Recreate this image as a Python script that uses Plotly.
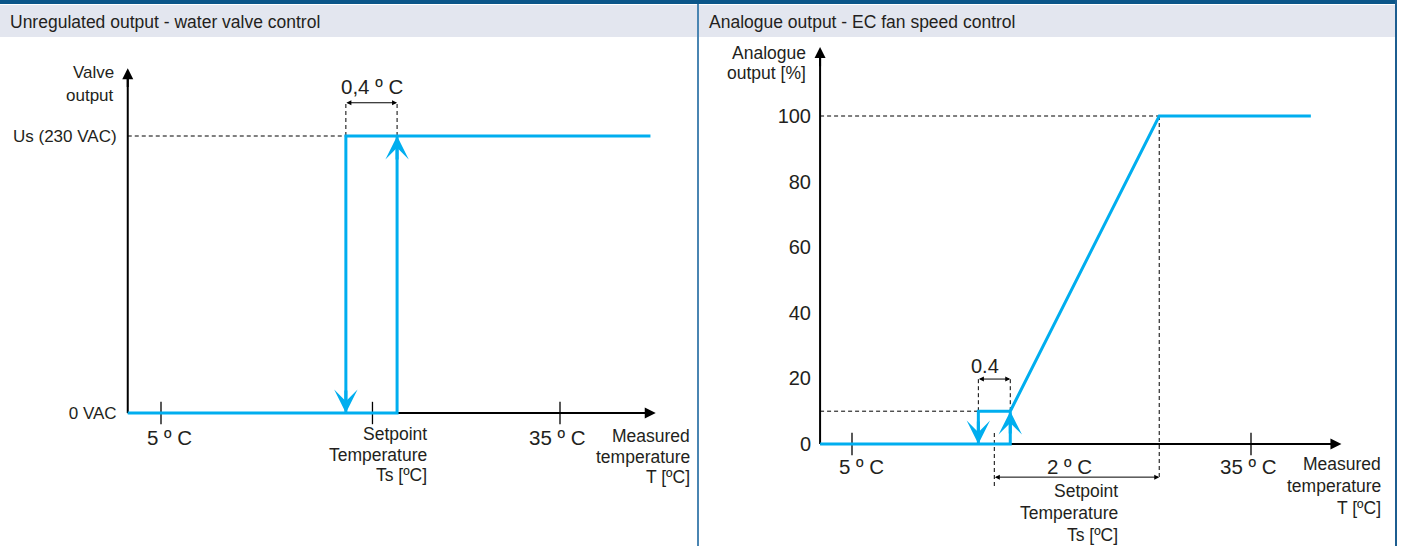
import plotly.graph_objects as go

W, H = 1402, 546

# ---------------- data (schematic values) ----------------
# Left panel: unregulated on/off output - water valve control
valve_tick_T = [5, 35]              # labelled temperature ticks (ºC)
valve_tick_labels = ["5 º C", "35 º C"]
valve_setpoint_T = 20.9             # setpoint Ts
valve_off_T = 18.9                  # output switches off (falling temperature)
valve_on_T = 22.75                  # output switches on (rising temperature)
valve_x_start = 2.5
valve_x_end = 41.8
valve_axis_end = 42.2
valve_levels = [0, 1]
valve_level_labels = ["0 VAC", "Us (230 VAC)"]
valve_axis_top = 1.245
valve_dim_level = 1.12
valve_hyst_label = "0,4 º C"

# Right panel: analogue output - EC fan speed control
fan_tick_T = [5, 35]
fan_tick_labels = ["5 º C", "35 º C"]
fan_setpoint_T = 15.7
fan_off_T = 14.5
fan_on_T = 16.9
fan_full_T = 28.1
fan_x_start = 2.6
fan_x_end = 39.5
fan_axis_end = 41.8
fan_min_pct = 10
fan_max_pct = 100
fan_yticks = [0, 20, 40, 60, 80, 100]
fan_axis_top = 121
fan_hyst_dim = 19.8
fan_band_dim = -10.1
fan_band_label = "2 º C"
fan_hyst_label = "0.4"

# ---------------- styles ----------------
BLUE = "#00AEEF"
INK = "#231f20"
FONT = "Liberation Sans"
PX_PER_C = 13.3


def lx(px):
    return 5 + (px - 161) / PX_PER_C


def rx(px):
    return 5 + (px - 852) / PX_PER_C


def ly(py):
    return (413 - py) / 277


def ry(py):
    return (444 - py) / 3.28


def ppx(px):
    return px / W


def ppy(py):
    return 1 - py / H


fig = go.Figure()


def seg_trace(xs, ys, axis, color, width, dash=None):
    xa, ya = ("x", "y") if axis == "L" else ("x2", "y2")
    fig.add_trace(go.Scatter(
        x=xs, y=ys, xaxis=xa, yaxis=ya, mode="lines",
        line=dict(color=color, width=width, dash=dash),
        hoverinfo="skip", showlegend=False))


DASH = "4px,3px"

# ---- left panel ----
seg_trace([valve_x_start, valve_off_T, None, valve_off_T, valve_off_T, None, valve_on_T, valve_on_T],
          [1, 1, None, 1, valve_dim_level, None, 1, valve_dim_level], "L", "black", 1, DASH)
# axes lines
seg_trace([valve_x_start, valve_axis_end - 0.4], [0, 0], "L", "black", 2)
seg_trace([valve_x_start, valve_x_start], [0, valve_axis_top - 0.02], "L", "black", 2)
# tick marks
fig.add_trace(go.Scatter(
    x=valve_tick_T + [valve_setpoint_T], y=[0, 0, 0], xaxis="x", yaxis="y", mode="markers",
    marker=dict(symbol="line-ns", size=16, line=dict(color="black", width=1.3)),
    hoverinfo="skip", showlegend=False))
# blue hysteresis path
seg_trace([valve_x_start, valve_on_T, valve_on_T, None, valve_off_T, valve_off_T, valve_x_end],
          [0, 0, 1, None, 0, 1, 1], "L", BLUE, 3)

# ---- right panel ----
seg_trace([fan_x_start, fan_off_T, None, fan_off_T, fan_off_T, None, fan_on_T, fan_on_T, None,
           fan_x_start, fan_full_T, None, fan_full_T, fan_full_T, None,
           fan_setpoint_T, fan_setpoint_T],
          [fan_min_pct, fan_min_pct, None, fan_min_pct, fan_hyst_dim, None, fan_min_pct, fan_hyst_dim, None,
           fan_max_pct, fan_max_pct, None, fan_max_pct, ry(478), None,
           ry(433), ry(486)], "R", "black", 1, DASH)
seg_trace([fan_x_start, fan_axis_end - 0.4], [0, 0], "R", "black", 2)
seg_trace([fan_x_start, fan_x_start], [0, fan_axis_top - 1.5], "R", "black", 2)
fig.add_trace(go.Scatter(
    x=fan_tick_T, y=[0, 0], xaxis="x2", yaxis="y2", mode="markers",
    marker=dict(symbol="line-ns", size=16, line=dict(color="black", width=1.3)),
    hoverinfo="skip", showlegend=False))
seg_trace([fan_x_start, fan_on_T, fan_on_T, fan_full_T, fan_x_end, None, fan_off_T, fan_off_T, fan_on_T],
          [0, 0, fan_min_pct, fan_max_pct, fan_max_pct, None, 0, fan_min_pct, fan_min_pct], "R", BLUE, 3)

annotations = []


def arrow(side, x, y, ax, ay, color, width, head, size, both=False):
    xr, yr = ("x", "y") if side == "L" else ("x2", "y2")
    a = dict(x=x, y=y, ax=ax, ay=ay, xref=xr, yref=yr, axref=xr, ayref=yr,
             text="", showarrow=True, arrowcolor=color, arrowwidth=width,
             arrowhead=head, arrowsize=size, standoff=0, startstandoff=0,
             borderpad=0, font=dict(size=1))
    if both:
        a.update(arrowside="end+start", startarrowhead=head, startarrowsize=size)
    annotations.append(a)


# blue switching arrows (short arrows whose heads sit on the blue path)
arrow("L", valve_on_T, 1, valve_on_T, ly(160), BLUE, 3, 3, 1.3)
arrow("L", valve_off_T, 0, valve_off_T, ly(390), BLUE, 3, 3, 1.3)
arrow("R", fan_on_T, fan_min_pct, fan_on_T, ry(434), BLUE, 3, 3, 1.3)
arrow("R", fan_off_T, 0, fan_off_T, ry(421), BLUE, 3, 3, 1.3)
# axis arrow heads
arrow("L", valve_axis_end, 0, valve_axis_end - 1.5, 0, "black", 2, 2, 1.1)
arrow("L", valve_x_start, valve_axis_top, valve_x_start, valve_axis_top - 0.07, "black", 2, 2, 1.1)
arrow("R", fan_axis_end, 0, fan_axis_end - 1.5, 0, "black", 2, 2, 1.1)
arrow("R", fan_x_start, fan_axis_top, fan_x_start, fan_axis_top - 6, "black", 2, 2, 1.1)
# dimension arrows
arrow("L", valve_on_T, valve_dim_level, valve_off_T, valve_dim_level, "black", 1, 2, 1, both=True)
arrow("R", fan_on_T, fan_hyst_dim, fan_off_T, fan_hyst_dim, "black", 1, 2, 1, both=True)
arrow("R", fan_full_T, fan_band_dim, fan_setpoint_T, fan_band_dim, "black", 1, 2, 1, both=True)


def label(text, px, py, size, anchor="center"):
    annotations.append(dict(x=ppx(px), y=ppy(py), xref="paper", yref="paper", text=text,
                            showarrow=False, xanchor=anchor, yanchor="middle",
                            font=dict(family=FONT, size=size, color=INK)))


def lines(texts, px, pys, size, anchor="right"):
    for t, py in zip(texts, pys):
        label(t, px, py, size, anchor)


# headers
label("Unregulated output - water valve control", 8, 22, 17.5, "left")
label("Analogue output - EC fan speed control", 707, 22, 17.5, "left")

# left labels
lines(["Valve", "output"], 116, [73, 95], 17)
label(valve_hyst_label, 372, 86, 20.5)
label(valve_tick_labels[0], 169.5, 437, 20.5)
label(valve_tick_labels[1], 557.5, 437, 20.5)
lines(["Setpoint", "Temperature", "Ts [ºC]"], 429, [434, 455, 475], 17.5)
lines(["Measured", "temperature", "T [ºC]"], 692, [436, 457, 477], 17.5)

# right labels
lines(["Analogue", "output [%]"], 808, [53, 73], 17.5)
label(fan_hyst_label, 985, 366, 20)
label(fan_tick_labels[0], 861.5, 466, 20.5)
label(fan_band_label, 1069.5, 466, 20.5)
label(fan_tick_labels[1], 1248, 466, 20.5)
lines(["Setpoint", "Temperature", "Ts [ºC]"], 1120, [491, 513, 535], 17.5)
lines(["Measured", "temperature", "T [ºC]"], 1383, [464, 486, 508], 17.5)

shapes = []


def rect(x0, y0, x1, y1, color):
    shapes.append(dict(type="rect", xref="paper", yref="paper",
                       x0=ppx(x0), x1=ppx(x1), y0=ppy(y1), y1=ppy(y0),
                       fillcolor=color, line=dict(width=0), layer="below"))


rect(0, 0, 1397, 4, "#0b5689")
rect(0, 5, 697, 37, "#e3e6ef")
rect(699, 5, 1395, 37, "#e3e6ef")
rect(697, 4, 699, 546, "#4a85b2")
rect(1395, 0, 1397, 546, "#1c5d90")

fig.update_layout(
    width=W, height=H, margin=dict(l=0, r=0, t=0, b=0),
    paper_bgcolor="white", plot_bgcolor="rgba(0,0,0,0)",
    font=dict(family=FONT, color=INK),
    showlegend=False,
    annotations=annotations, shapes=shapes,
    xaxis=dict(domain=[0, 697 / W], range=[lx(0), lx(697)], visible=False, anchor="y", fixedrange=True),
    yaxis=dict(domain=[0, 1], range=[ly(546), ly(0)], anchor="free", position=128 / W,
               tickvals=valve_levels, ticktext=valve_level_labels, showgrid=False, zeroline=False,
               showline=False, ticks="outside", ticklen=8, tickcolor="rgba(0,0,0,0)",
               tickfont=dict(family=FONT, size=17, color=INK), fixedrange=True),
    xaxis2=dict(domain=[700 / W, 1395 / W], range=[rx(700), rx(1395)], visible=False, anchor="y2",
                fixedrange=True),
    yaxis2=dict(domain=[0, 1], range=[ry(546), ry(0)], anchor="free", position=820 / W,
                tickvals=fan_yticks, showgrid=False, zeroline=False, showline=False,
                ticks="outside", ticklen=5, tickcolor="rgba(0,0,0,0)",
                tickfont=dict(family=FONT, size=20, color=INK), fixedrange=True),
)

fig.write_html("out.html", config={"displayModeBar": False},
               post_script="document.body.style.margin='0';document.body.style.overflow='hidden';")
